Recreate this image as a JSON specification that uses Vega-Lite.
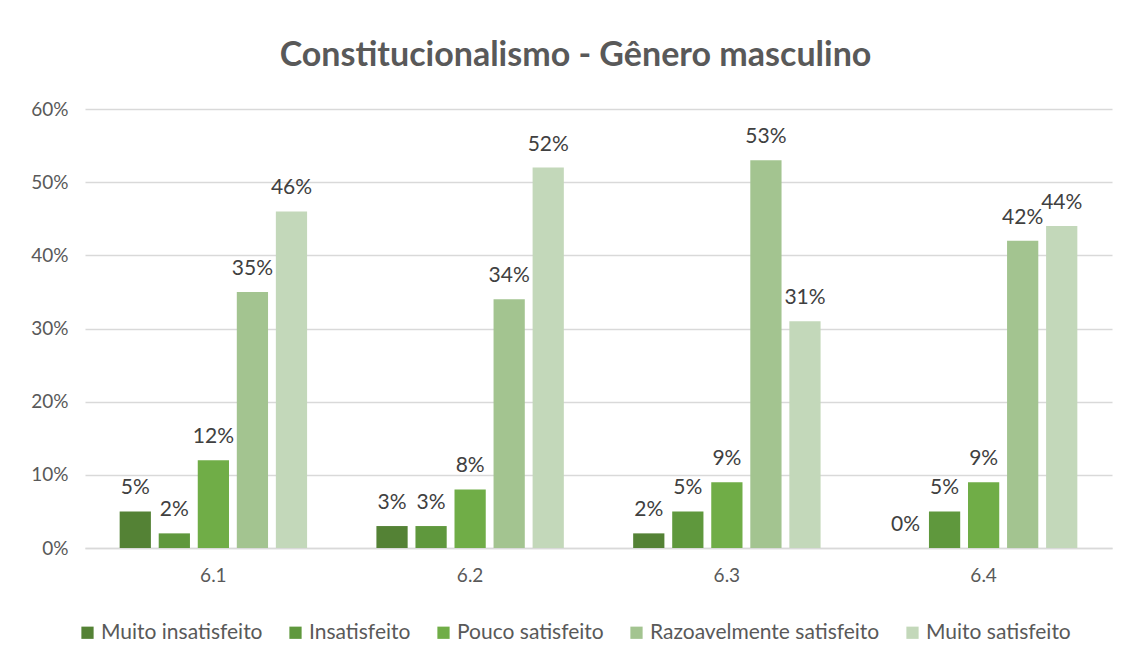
{
  "$schema": "https://vega.github.io/schema/vega-lite/v6.json",
  "autosize": "none",
  "width": 1027,
  "height": 439,
  "padding": {"left": 85, "top": 109, "right": 19, "bottom": 116},
  "background": "white",
  "config": {"view": {"stroke": null}},
  "title": {
    "text": "Constitucionalismo - Gênero masculino",
    "font": "Lato",
    "fontSize": 34,
    "fontWeight": "bold",
    "color": "#595959",
    "anchor": "middle",
    "dx": -23,
    "offset": 27
  },
  "data": {
    "values": [
      {"q": "6.1", "s": "Muito insatisfeito", "v": 0.05},
      {"q": "6.1", "s": "Insatisfeito", "v": 0.02},
      {"q": "6.1", "s": "Pouco satisfeito", "v": 0.12},
      {"q": "6.1", "s": "Razoavelmente satisfeito", "v": 0.35},
      {"q": "6.1", "s": "Muito satisfeito", "v": 0.46},
      {"q": "6.2", "s": "Muito insatisfeito", "v": 0.03},
      {"q": "6.2", "s": "Insatisfeito", "v": 0.03},
      {"q": "6.2", "s": "Pouco satisfeito", "v": 0.08},
      {"q": "6.2", "s": "Razoavelmente satisfeito", "v": 0.34},
      {"q": "6.2", "s": "Muito satisfeito", "v": 0.52},
      {"q": "6.3", "s": "Muito insatisfeito", "v": 0.02},
      {"q": "6.3", "s": "Insatisfeito", "v": 0.05},
      {"q": "6.3", "s": "Pouco satisfeito", "v": 0.09},
      {"q": "6.3", "s": "Razoavelmente satisfeito", "v": 0.53},
      {"q": "6.3", "s": "Muito satisfeito", "v": 0.31},
      {"q": "6.4", "s": "Muito insatisfeito", "v": 0.0},
      {"q": "6.4", "s": "Insatisfeito", "v": 0.05},
      {"q": "6.4", "s": "Pouco satisfeito", "v": 0.09},
      {"q": "6.4", "s": "Razoavelmente satisfeito", "v": 0.42},
      {"q": "6.4", "s": "Muito satisfeito", "v": 0.44}
    ]
  },
  "encoding": {
    "x": {
      "field": "q",
      "type": "nominal",
      "scale": {"paddingInner": 0.27, "paddingOuter": 0.135},
      "axis": {
        "title": null,
        "labelAngle": 0,
        "labelFont": "Lato",
        "labelFontSize": 19,
        "labelColor": "#595959",
        "labelPadding": 18,
        "ticks": false,
        "domainColor": "#D9D9D9",
        "domainWidth": 1.5
      }
    },
    "xOffset": {
      "field": "s",
      "type": "nominal",
      "sort": ["Muito insatisfeito", "Insatisfeito", "Pouco satisfeito", "Razoavelmente satisfeito", "Muito satisfeito"],
      "scale": {"paddingInner": 0.2, "paddingOuter": 0}
    },
    "y": {
      "field": "v",
      "type": "quantitative",
      "scale": {"domain": [0, 0.6]},
      "axis": {
        "title": null,
        "format": ".0%",
        "values": [0, 0.1, 0.2, 0.3, 0.4, 0.5, 0.6],
        "labelFont": "Lato",
        "labelFontSize": 19,
        "labelColor": "#595959",
        "labelPadding": 17,
        "ticks": false,
        "domain": false,
        "gridColor": "#D9D9D9",
        "gridWidth": 1.5
      }
    }
  },
  "layer": [
    {
      "mark": {"type": "bar"},
      "encoding": {
        "color": {
          "field": "s",
          "type": "nominal",
          "sort": ["Muito insatisfeito", "Insatisfeito", "Pouco satisfeito", "Razoavelmente satisfeito", "Muito satisfeito"],
          "scale": {
            "domain": ["Muito insatisfeito", "Insatisfeito", "Pouco satisfeito", "Razoavelmente satisfeito", "Muito satisfeito"],
            "range": ["#548235", "#5F983D", "#70AD47", "#A3C490", "#C3D8BA"]
          },
          "legend": {
            "title": null,
            "orient": "none",
            "direction": "horizontal",
            "legendX": -8,
            "legendY": 513,
            "symbolType": "square",
            "symbolSize": 150,
            "symbolStrokeWidth": 0,
            "labelFont": "Lato",
            "labelFontSize": 21,
            "labelColor": "#595959",
            "labelLimit": 400,
            "columnPadding": 22,
            "labelOffset": 3
          }
        }
      }
    },
    {
      "mark": {"type": "text", "dy": -23, "font": "Lato", "fontSize": 21, "color": "#404040"},
      "encoding": {
        "text": {"field": "v", "type": "quantitative", "format": ".0%"}
      }
    }
  ]
}
